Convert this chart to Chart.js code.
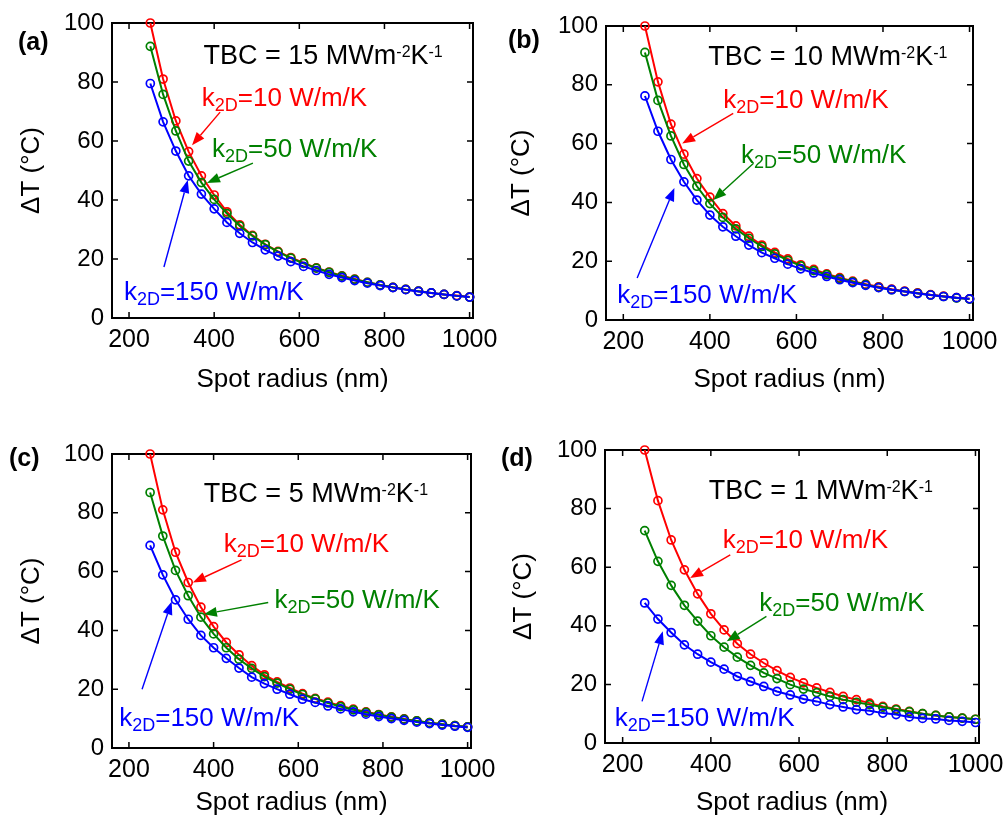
<!DOCTYPE html>
<html>
<head>
<meta charset="utf-8">
<title>Temperature rise vs spot radius</title>
<script src="https://cdn.jsdelivr.net/npm/chart.js@4.4.1/dist/chart.umd.min.js"></script>
<style>
  html, body { margin: 0; background: #fff; overflow: hidden; }
  #wrap { position: relative; width: 1008px; height: 820px; }
  canvas { position: absolute; }
</style>
</head>
<body>
<div id="wrap">
  <canvas id="pa" width="500" height="405" style="left:0;top:0"></canvas>
  <canvas id="pb" width="508" height="405" style="left:500px;top:0"></canvas>
  <canvas id="pc" width="500" height="410" style="left:0;top:410px"></canvas>
  <canvas id="pd" width="508" height="410" style="left:500px;top:410px"></canvas>
</div>
<script>
const spotRadius = [250, 280, 310, 340, 370, 400, 430, 460, 490, 520, 550, 580, 610,
  640, 670, 700, 730, 760, 790, 820, 850, 880, 910, 940, 970, 1000];
const xTicks = [200, 400, 600, 800, 1000];
const yTicks = [0, 20, 40, 60, 80, 100];
const tbcValues = [15, 10, 5, 1];          // MW m^-2 K^-1
const k2dValues = [10, 50, 150];           // W/m/K
const panelTags = ['(a)', '(b)', '(c)', '(d)'];

// ΔT (°C) for each thermal boundary conductance and in-plane conductivity
const tbc15_k10 = [100, 81.0, 66.8, 56.4, 48.2, 41.7, 36.0, 31.6, 28.0, 25.0, 22.6, 20.5, 18.7,
  17.0, 15.6, 14.3, 13.2, 12.1, 11.2, 10.4, 9.7, 9.1, 8.5, 8.0, 7.6, 7.1];
const tbc15_k50 = [92.1, 75.8, 63.4, 53.2, 45.9, 40.2, 35.4, 31.2, 27.8, 24.9, 22.4, 20.3, 18.5,
  16.9, 15.5, 14.2, 13.1, 12.1, 11.2, 10.4, 9.7, 9.1, 8.5, 8.0, 7.5, 7.1];
const tbc15_k150 = [79.5, 66.5, 56.6, 48.2, 42.0, 37.0, 32.4, 28.7, 25.6, 23.1, 21.0, 19.1, 17.5,
  16.1, 14.8, 13.7, 12.7, 11.8, 11.0, 10.3, 9.6, 9.0, 8.5, 8.0, 7.5, 7.1];

const tbc10_k10 = [100, 81.0, 66.6, 56.4, 48.1, 41.8, 36.2, 32.0, 28.5, 25.5, 23.0, 20.8, 18.8,
  17.2, 15.7, 14.4, 13.2, 12.2, 11.3, 10.5, 9.8, 9.2, 8.6, 8.1, 7.6, 7.2];
const tbc10_k50 = [91.0, 74.7, 62.6, 52.9, 45.5, 39.6, 34.9, 31.0, 27.8, 25.0, 22.5, 20.3, 18.4,
  16.8, 15.4, 14.1, 13.0, 12.0, 11.1, 10.3, 9.7, 9.1, 8.5, 8.0, 7.5, 7.1];
const tbc10_k150 = [76.2, 64.2, 54.6, 47.0, 40.8, 35.7, 31.7, 28.5, 25.5, 22.9, 21.0, 19.0, 17.4,
  16.0, 14.8, 13.7, 12.7, 11.8, 11.0, 10.3, 9.7, 9.0, 8.5, 8.0, 7.6, 7.2];

const tbc5_k10 = [100, 81.0, 66.6, 56.3, 47.9, 41.3, 35.9, 31.7, 28.0, 24.9, 22.5, 20.4, 18.5,
  16.9, 15.6, 14.4, 13.2, 12.3, 11.4, 10.6, 9.9, 9.2, 8.6, 8.1, 7.6, 7.2];
const tbc5_k50 = [86.9, 72.1, 60.4, 51.8, 44.5, 38.8, 34.1, 30.2, 27.1, 24.3, 22.1, 20.0, 18.2,
  16.7, 15.3, 14.1, 13.0, 12.1, 11.3, 10.5, 9.8, 9.2, 8.6, 8.1, 7.6, 7.2];
const tbc5_k150 = [68.9, 58.9, 50.4, 43.8, 38.3, 34.1, 30.5, 27.2, 24.1, 21.9, 20.0, 18.3, 16.6,
  15.5, 14.3, 13.3, 12.3, 11.5, 10.7, 10.0, 9.4, 8.8, 8.3, 7.8, 7.4, 7.0];

const tbc1_k10 = [100, 82.7, 69.3, 59.1, 50.9, 44.1, 38.6, 33.9, 30.3, 27.3, 24.7, 22.4, 20.5,
  18.8, 17.3, 15.9, 14.8, 13.6, 12.5, 11.6, 10.8, 10.0, 9.4, 8.9, 8.5, 8.1];
const tbc1_k50 = [72.5, 62.0, 53.8, 47.0, 41.6, 36.6, 32.7, 29.3, 26.5, 23.9, 22.0, 19.9, 18.4,
  17.2, 15.9, 14.8, 13.9, 13.1, 12.2, 11.4, 10.7, 10.0, 9.4, 8.9, 8.5, 8.1];
const tbc1_k150 = [47.8, 42.3, 37.7, 33.5, 30.3, 27.6, 25.2, 22.7, 21.0, 19.3, 17.6, 16.4, 15.0,
  14.2, 13.1, 12.3, 11.4, 11.0, 10.2, 9.7, 8.9, 8.4, 8.2, 7.7, 7.4, 7.0];

const seriesColors = ['#ff0000', '#008000', '#0000ff'];
const family = '"Liberation Sans", Arial, Helvetica, sans-serif';
Chart.defaults.font.family = family;
Chart.defaults.color = '#000';

// plot-box placement and annotation anchors (annotations in data units)
const panels = [
  { canvas: 'pa', series: [tbc15_k10, tbc15_k50, tbc15_k150],
    area: { l: 112, t: 23, r: 473, b: 318 }, tagAt: [18, 43], yTitlePad: 19, xTitlePad: 12,
    tbcAt: [375, 86], labelAt: [[371, 72], [395, 54.6], [188, 6.1]],
    arrows: [[414, 69.8, 348, 58.6], [491, 52.5, 383, 45.8], [282, 17.3, 338, 46.8]] },
  { canvas: 'pb', series: [tbc10_k10, tbc10_k50, tbc10_k150],
    area: { l: 106, t: 26, r: 473, b: 320 }, tagAt: [8, 41], yTitlePad: 9, xTitlePad: 12,
    tbcAt: [396, 86.6], labelAt: [[431, 72], [472, 53.3], [186, 5.8]],
    arrows: [[454, 70.3, 336, 60], [501, 53.3, 408, 40.8], [232, 14.3, 318, 44.9]] },
  { canvas: 'pc', series: [tbc5_k10, tbc5_k50, tbc5_k150],
    area: { l: 112, t: 44, r: 471, b: 338 }, tagAt: [9, 49], yTitlePad: 19, xTitlePad: 4,
    tbcAt: [377, 83.8], labelAt: [[424, 66.8], [544, 47.6], [177, 7.4]],
    arrows: [[466, 64, 351, 56.3], [529, 49.5, 377, 45.5], [231, 20, 301, 49.8]] },
  { canvas: 'pd', series: [tbc1_k10, tbc1_k50, tbc1_k150],
    area: { l: 105, t: 40, r: 479, b: 333 }, tagAt: [1, 49], yTitlePad: 11, xTitlePad: 4,
    tbcAt: [395, 83.2], labelAt: [[427, 66.5], [510, 44.9], [182, 5.7]],
    arrows: [[444, 64.2, 353, 56.3], [526, 43.2, 436, 34.7], [244, 14.2, 291, 38.1]] }
];

// text with sub/superscript pieces, anchored at the left baseline
function richText(ctx, x, y, runs, color, base) {
  ctx.fillStyle = color;
  ctx.textAlign = 'left';
  ctx.textBaseline = 'alphabetic';
  let cx = x;
  runs.forEach(([text, kind]) => {
    const size = kind === 'sup' ? 16 : kind === 'sub' ? 18 : base;
    const dy = kind === 'sup' ? -7 : kind === 'sub' ? 5 : 0;
    ctx.font = size + 'px ' + family;
    ctx.fillText(text, cx, y + dy);
    cx += ctx.measureText(text).width;
  });
}

function arrow(ctx, x0, y0, x1, y1, color) {
  const ang = Math.atan2(y1 - y0, x1 - x0);
  const len = 13, half = 5;
  const bx = x1 - len * Math.cos(ang), by = y1 - len * Math.sin(ang);
  ctx.strokeStyle = color;
  ctx.fillStyle = color;
  ctx.lineWidth = 1.4;
  ctx.beginPath();
  ctx.moveTo(x0, y0);
  ctx.lineTo(bx, by);
  ctx.stroke();
  ctx.beginPath();
  ctx.moveTo(x1, y1);
  ctx.lineTo(bx + half * Math.sin(ang), by - half * Math.cos(ang));
  ctx.lineTo(bx - half * Math.sin(ang), by + half * Math.cos(ang));
  ctx.closePath();
  ctx.fill();
}

// boxed axes with inward tick marks on all four sides
const frame = {
  id: 'frame',
  beforeDatasetsDraw(chart) {
    const { ctx, chartArea: a, scales: { x, y } } = chart;
    ctx.save();
    ctx.strokeStyle = '#000';
    ctx.lineWidth = 2;
    ctx.strokeRect(a.left, a.top, a.right - a.left, a.bottom - a.top);
    ctx.lineWidth = 1.5;
    ctx.beginPath();
    x.ticks.forEach(t => {
      const px = x.getPixelForValue(t.value);
      ctx.moveTo(px, a.bottom); ctx.lineTo(px, a.bottom - 6);
      ctx.moveTo(px, a.top); ctx.lineTo(px, a.top + 6);
    });
    y.ticks.forEach(t => {
      const py = y.getPixelForValue(t.value);
      ctx.moveTo(a.left, py); ctx.lineTo(a.left + 6, py);
      ctx.moveTo(a.right, py); ctx.lineTo(a.right - 6, py);
    });
    ctx.stroke();
    ctx.restore();
  }
};

const notes = {
  id: 'notes',
  afterDatasetsDraw(chart, args, opts) {
    const { ctx, scales: { x, y } } = chart;
    ctx.save();
    ctx.font = 'bold 25px ' + family;
    ctx.fillStyle = '#000';
    ctx.textAlign = 'left';
    ctx.textBaseline = 'middle';
    ctx.fillText(opts.tag, opts.tagAt[0], opts.tagAt[1]);

    richText(ctx, x.getPixelForValue(opts.tbcAt[0]), y.getPixelForValue(opts.tbcAt[1]),
      [['TBC = ' + opts.tbc + ' MWm', ''], ['-2', 'sup'], ['K', ''], ['-1', 'sup']], '#000', 27);

    k2dValues.forEach((k, i) => {
      const [lx, ly] = opts.labelAt[i];
      richText(ctx, x.getPixelForValue(lx), y.getPixelForValue(ly),
        [['k', ''], ['2D', 'sub'], ['=' + k + ' W/m/K', '']], seriesColors[i], 26);
      const [x0, y0, x1, y1] = opts.arrows[i];
      arrow(ctx, x.getPixelForValue(x0), y.getPixelForValue(y0),
        x.getPixelForValue(x1), y.getPixelForValue(y1), seriesColors[i]);
    });
    ctx.restore();
  }
};

panels.forEach((p, idx) => {
  const canvas = document.getElementById(p.canvas);
  const W = canvas.width, H = canvas.height;
  const a = p.area;

  const datasets = p.series.map((vals, i) => ({
    label: 'k2D=' + k2dValues[i] + ' W/m/K',
    data: spotRadius.map((r, j) => ({ x: r, y: vals[j] })),
    borderColor: seriesColors[i],
    borderWidth: 2,
    pointRadius: 4,
    pointBorderWidth: 1.7,
    pointBorderColor: seriesColors[i],
    pointBackgroundColor: 'rgba(0,0,0,0)',
    tension: 0,
    clip: false,
    order: 2 - i
  }));

  new Chart(canvas, {
    type: 'line',
    data: { datasets },
    plugins: [frame, notes],
    options: {
      responsive: false,
      animation: false,
      events: [],
      layout: { autoPadding: false, padding: { left: 0, top: a.t, right: W - a.r, bottom: 0 } },
      plugins: {
        legend: { display: false },
        tooltip: { enabled: false },
        notes: { tag: panelTags[idx], tbc: tbcValues[idx], tagAt: p.tagAt,
                 tbcAt: p.tbcAt, labelAt: p.labelAt, arrows: p.arrows }
      },
      scales: {
        x: {
          type: 'linear',
          min: 160,
          max: 1008,
          grid: { display: false, drawTicks: false },
          border: { display: false },
          ticks: { font: { size: 25 }, padding: 7, maxRotation: 0, autoSkip: false,
                   callback: v => String(v) },
          title: { display: true, text: 'Spot radius (nm)', font: { size: 26, lineHeight: 1 },
                   padding: { top: 0, bottom: p.xTitlePad } },
          afterBuildTicks: s => { s.ticks = xTicks.map(v => ({ value: v })); },
          afterFit: s => {
            s.height = H - a.b;
            s.paddingLeft = s.paddingRight = s.paddingTop = s.paddingBottom = 0;
          }
        },
        y: {
          type: 'linear',
          min: 0,
          max: 100,
          grid: { display: false, drawTicks: false },
          border: { display: false },
          ticks: { font: { size: 24 }, padding: 8, callback: v => String(v) },
          title: { display: true, text: 'ΔT (°C)', font: { size: 26, lineHeight: 1 },
                   padding: { top: p.yTitlePad, bottom: 0 } },
          afterBuildTicks: s => { s.ticks = yTicks.map(v => ({ value: v })); },
          afterFit: s => {
            s.width = a.l;
            s.paddingLeft = s.paddingRight = s.paddingTop = s.paddingBottom = 0;
          }
        }
      }
    }
  });
});
</script>
</body>
</html>
